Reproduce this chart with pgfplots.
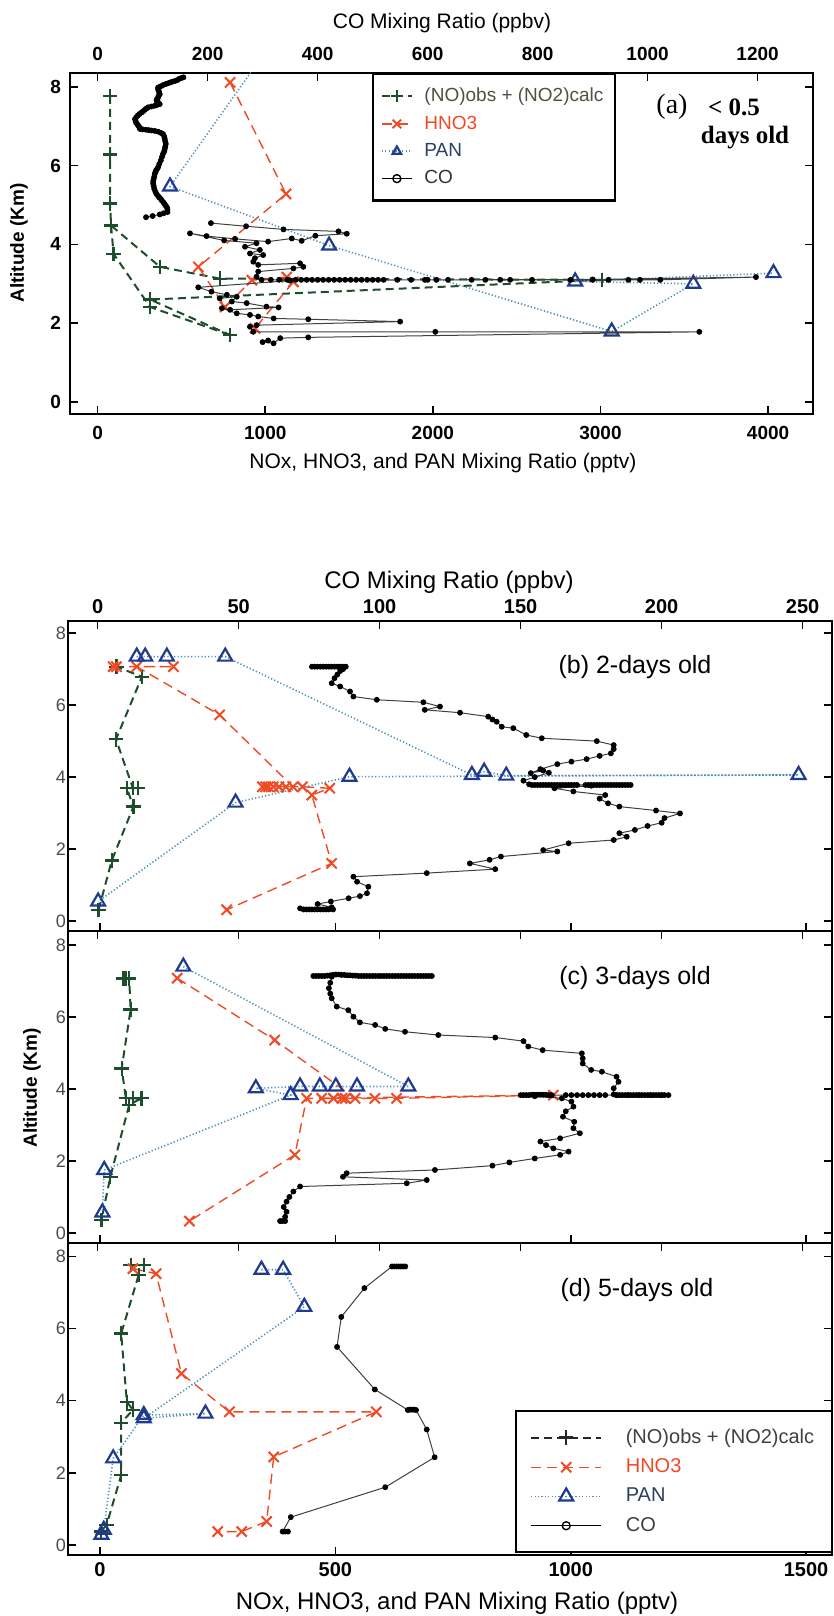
\documentclass[border=0pt]{standalone}
\usepackage{fontspec}
\setmainfont{Liberation Sans}
\newfontfamily\tnr{Liberation Serif}
\usepackage{pgfplots}
\pgfplotsset{compat=1.18}
\definecolor{noxc}{HTML}{1E4D2B}
\definecolor{hnoc}{HTML}{F04A25}
\definecolor{pantri}{HTML}{1F3B8F}
\definecolor{panline}{HTML}{4D8FB5}
\definecolor{legnox}{HTML}{4A5540}
\definecolor{legpan}{HTML}{2D3E63}
\pgfplotsset{
  noxs/.style={color=noxc, line width=1pt, dash pattern=on 4pt off 2.5pt, mark=+, mark size=3.6pt, mark options={solid, line width=1.1pt}},
  hnos/.style={color=hnoc, line width=0.7pt, dash pattern=on 5pt off 3pt, mark=x, mark size=3.6pt, mark options={solid, line width=1pt}},
  pans/.style={color=panline, line width=0.8pt, dash pattern=on 0.6pt off 1.1pt, mark=triangle, mark size=4pt, mark options={solid, draw=pantri, fill=none, line width=1.1pt}},
  cos/.style={color=black!75, line width=0.5pt, mark=*, mark size=1.2pt, mark options={solid, draw=black, fill=black}},
  colegend/.style={color=black, line width=0.7pt, mark=o, mark size=2pt, mark options={solid}},
  base/.style={scale only axis, axis line style={line width=1pt}, tick style={line width=0.8pt, black}, major tick length=4pt, tick align=inside,
     /pgf/number format/assume math mode=true, /pgf/number format/1000 sep={}, scaled x ticks=false, scaled y ticks=false},
}
\begin{document}
\begin{tikzpicture}
\useasboundingbox (0,0) rectangle (417pt,-808pt);

% ---------------- Panel (a) ----------------
\begin{axis}[base, at={(35pt,-36.5pt)}, anchor=north west, width=371.5pt, height=170.5pt,
  xmin=-165, xmax=4268, ymin=-0.305, ymax=8.35,
  xtick={0,1000,2000,3000,4000}, xtick pos=bottom, ytick={0,2,4,6,8}, ytick pos=both, yticklabel pos=left,
  xticklabel style={font=\fontsize{9.5}{11}\selectfont\bfseries, yshift=-2.5pt},
  yticklabel style={font=\fontsize{9.5}{11}\selectfont\bfseries, xshift=-1pt}]
\addplot[noxs] coordinates {(74,7.77)(74,6.28)(74,5.04)(80,4.48)(372,3.43)(731,3.13)(3008,3.10)(313,2.60)(790,1.70)};
\addplot[noxs] coordinates {(80,4.48)(95,3.76)(313,2.41)(790,1.70)};
\addplot[hnos] coordinates {(790,8.11)(1124,5.28)(601,3.43)(760,2.41)(920,3.09)(1128,3.17)(1168,3.05)(939,1.87)};
\addplot[pans] coordinates {(1019,9.0)(432,5.47)(1381,3.97)(3067,1.79)(3554,3.00)(2849,3.06)(4032,3.27)};
\end{axis}
\begin{axis}[base, at={(35pt,-36.5pt)}, anchor=north west, width=371.5pt, height=170.5pt,
  xmin=-50.2, xmax=1300.7, ymin=-0.305, ymax=8.35, axis line style={draw=none},
  xtick={0,200,400,600,800,1000,1200}, xtick pos=top, xticklabel pos=top, ytick=\empty,
  xticklabel style={font=\fontsize{9.5}{11}\selectfont\bfseries, yshift=2.5pt},
  legend cell align=left,
  legend image code/.code={\draw[mark repeat=2,mark phase=2,#1] plot coordinates {(0pt,0pt)(7.5pt,0pt)(15pt,0pt)};},
  legend style={at={(0.406,1)}, anchor=north west, draw=black, line width=1.2pt, fill=white,
    font=\fontsize{9.5}{11}\selectfont, nodes={inner sep=1.8pt}, row sep=2pt, inner xsep=4pt, inner ysep=5pt,
    /tikz/every odd column/.append style={column sep=4pt}}]
\addlegendimage{noxs, mark size=3pt}\addlegendentry{\textcolor{legnox}{(NO)obs + (NO2)calc}\hspace{16pt}}
\addlegendimage{hnos, mark size=3pt}\addlegendentry{\textcolor{hnoc}{HNO3}}
\addlegendimage{pans, mark size=2.4pt}\addlegendentry{\textcolor{legpan}{PAN}}
\addlegendimage{colegend}\addlegendentry{\textcolor{black!80}{CO}}
\addplot[cos, forget plot] coordinates {(156,8.24)(152,8.22)(148,8.20)(145,8.17)(141,8.15)(136,8.13)(132,8.11)(128,8.09)(124,8.07)(120,8.05)(116,8.02)(113,8.00)(110,7.98)(110,7.94)(111,7.90)(112,7.85)(113,7.81)(111,7.77)(110,7.73)(108,7.69)(107,7.65)(110,7.60)(113,7.56)(108,7.54)(104,7.52)(98,7.50)(92,7.48)(89,7.45)(86,7.42)(83,7.38)(80,7.35)(76,7.31)(73,7.27)(70,7.22)(68,7.18)(69,7.13)(70,7.09)(72,7.05)(74,7.01)(76,6.97)(77,6.93)(82,6.92)(88,6.91)(93,6.90)(98,6.89)(104,6.88)(110,6.86)(115,6.83)(119,6.80)(121,6.74)(122,6.68)(123,6.61)(124,6.55)(123,6.48)(122,6.42)(121,6.36)(119,6.30)(117,6.22)(115,6.13)(112,6.04)(110,5.96)(108,5.91)(106,5.87)(105,5.83)(104,5.79)(103,5.72)(102,5.66)(101,5.60)(101,5.54)(102,5.48)(103,5.41)(105,5.34)(107,5.28)(110,5.23)(112,5.19)(115,5.15)(117,5.11)(120,5.06)(122,5.02)(124,4.98)(126,4.94)(127,4.88)(127,4.82)(120,4.79)(113,4.76)(100,4.72)(88,4.69)};
\addplot[cos, forget plot] coordinates {(206,4.54)(270,4.46)(338,4.38)(438,4.33)(453,4.27)(396,4.22)(371,4.09)(353,4.15)(310,4.07)(250,4.14)(198,4.21)(168,4.28)(230,4.10)(289,4.03)(268,3.94)(295,3.86)(277,3.77)(301,3.73)(286,3.65)(283,3.56)(292,3.48)(368,3.52)(374,3.43)(356,3.39)(292,3.31)(289,3.18)(298,3.10)(315,3.10)(330,3.10)(345,3.10)(360,3.10)(370,3.10)(380,3.10)(390,3.10)(400,3.10)(410,3.10)(420,3.10)(430,3.10)(440,3.10)(450,3.10)(460,3.10)(470,3.10)(480,3.10)(490,3.10)(500,3.10)(510,3.10)(520,3.10)(545,3.10)(570,3.10)(595,3.10)(616,3.10)(637,3.10)(680,3.10)(705,3.10)(732,3.10)(750,3.10)(790,3.10)(860,3.10)(900,3.10)(929,3.10)(965,3.10)(986,3.10)(1023,3.10)(1197,3.17)(900,3.11)(600,3.10)(350,3.08)(183,2.91)(207,2.80)(235,2.72)(222,2.63)(253,2.67)(244,2.55)(271,2.51)(307,2.42)(329,2.40)(241,2.34)(226,2.38)(253,2.25)(277,2.21)(292,2.17)(320,2.12)(383,2.10)(550,2.04)(289,1.95)(277,1.91)(283,1.78)(614,1.78)(1094,1.78)(383,1.64)(332,1.62)(320,1.49)(300,1.52)(310,1.56)};
\end{axis}
\node[font=\fontsize{10.5}{12}\selectfont] at (221pt,-11.5pt) {CO Mixing Ratio (ppbv)};
\node[font=\fontsize{10.5}{12}\selectfont] at (221.5pt,-231.5pt) {NOx, HNO3, and PAN Mixing Ratio (pptv)};
\node[font=\fontsize{9.5}{11}\selectfont\bfseries, rotate=90] at (9.5pt,-121.5pt) {Altitude (Km)};
\node[font=\tnr\fontsize{14}{16}\selectfont] at (336pt,-53.5pt) {(a)};
\node[font=\tnr\fontsize{12.5}{14}\selectfont\bfseries] at (367pt,-53.5pt) {< 0.5};
\node[font=\tnr\fontsize{12.5}{14}\selectfont\bfseries] at (372.5pt,-69pt) {days old};

% ---------------- Panel (b) ----------------
\begin{axis}[base, at={(34pt,-310.5pt)}, anchor=north west, width=382pt, height=155pt,
  xmin=-68, xmax=1555, ymin=-0.28, ymax=8.34,
  xtick={0,500,1000,1500}, xtick pos=bottom, xticklabels={}, ytick={0,2,4,6,8}, ytick pos=both, yticklabel pos=left,
  yticklabel style={font=\fontsize{9}{11}\selectfont, text=black!70, xshift=2.5pt}]
\addplot[noxs] coordinates {(-3,0.31)(25,1.68)(71,3.18)(57,3.69)(81,3.69)(70,3.69)(34,5.05)(89,6.79)(35,7.07)};
\addplot[hnos] coordinates {(28,7.07)(35,7.07)(156,7.07)(78,7.07)(254,5.73)(410,3.73)(345,3.73)(352,3.73)(358,3.73)(368,3.73)(380,3.73)(395,3.73)(430,3.73)(488,3.69)(450,3.50)(492,1.60)(269,0.31)};
\addplot[pans] coordinates {(78,7.35)(96,7.35)(142,7.35)(266,7.35)(790,4.06)(816,4.15)(863,4.04)(1484,4.06)(530,4.01)(288,3.29)(-4,0.54)};
\end{axis}
\begin{axis}[base, at={(34pt,-310.5pt)}, anchor=north west, width=382pt, height=155pt,
  xmin=-10.5, xmax=260.4, ymin=-0.28, ymax=8.34, axis line style={draw=none},
  xtick={0,50,100,150,200,250}, xtick pos=top, xticklabel pos=top, ytick=\empty,
  xticklabel style={font=\fontsize{10}{12}\selectfont\bfseries}]
\addplot[cos] coordinates {(76,7.07)(77,7.07)(78,7.07)(79,7.07)(80,7.07)(81,7.07)(82,7.07)(83,7.07)(84,7.07)(85,7.07)(86,7.07)(87,7.07)(88,7.07)(87,7.00)(86,6.95)(85,6.85)(84,6.75)(83,6.61)(86,6.52)(89.5,6.38)(90.7,6.24)(99,6.15)(115.5,6.08)(121.4,5.96)(116,5.87)(128.5,5.79)(138.5,5.68)(140,5.60)(141.5,5.54)(143.3,5.40)(147.4,5.36)(152,5.17)(157.5,5.08)(177,5.00)(183,4.89)(183,4.78)(182,4.66)(178,4.59)(173.4,4.50)(168,4.43)(163,4.36)(157,4.22)(153.6,4.11)(158,4.18)(160,4.12)(155,4.00)(151,3.90)(153,3.80)(154,3.78)(155,3.78)(156,3.78)(157,3.78)(158,3.78)(159,3.78)(160,3.78)(161,3.78)(162,3.78)(163,3.78)(164,3.78)(165,3.78)(166,3.78)(167,3.78)(168,3.78)(169,3.78)(170,3.78)(173,3.78)(174,3.78)(175,3.78)(176,3.78)(177,3.78)(178,3.78)(179,3.78)(180,3.78)(181,3.78)(182,3.78)(183,3.78)(184,3.78)(185,3.78)(186,3.78)(187,3.78)(188,3.78)(189,3.78)(175,3.76)(162,3.69)(168.7,3.60)(180,3.50)(178,3.40)(181,3.27)(185,3.18)(198,3.07)(206.5,2.99)(201,2.86)(200,2.73)(195,2.64)(190.5,2.53)(185,2.44)(187.6,2.34)(183,2.25)(167,2.16)(158,1.97)(163,1.93)(143,1.79)(139,1.70)(132,1.60)(141,1.44)(116.7,1.33)(90.7,1.23)(92,1.09)(96,0.95)(95.5,0.77)(93,0.69)(89,0.63)(82.7,0.54)(78,0.47)(83,0.38)(71.8,0.35)(73,0.32)(74,0.32)(75,0.32)(76,0.32)(77,0.32)(78,0.32)(79,0.32)(80,0.32)(81,0.32)(82,0.32)(83.5,0.32)};
\end{axis}
\node[font=\fontsize{12}{14}\selectfont] at (224.5pt,-291pt) {CO Mixing Ratio (ppbv)};
\node[font=\fontsize{12.5}{14}\selectfont] at (317.5pt,-333.5pt) {(b) 2-days old};

% ---------------- Panel (c) ----------------
\begin{axis}[base, at={(34pt,-465.5pt)}, anchor=north west, width=382pt, height=156pt,
  xmin=-68, xmax=1555, ymin=-0.28, ymax=8.39,
  xtick={0,500,1000,1500}, xtick pos=bottom, xticklabels={}, ytick={0,2,4,6,8}, ytick pos=both, yticklabel pos=left,
  yticklabel style={font=\fontsize{9}{11}\selectfont, text=black!70, xshift=2.5pt}]
\addplot[noxs] coordinates {(50,7.07)(56,7.07)(62,7.07)(65,6.21)(46,4.57)(55,3.74)(70,3.74)(88,3.74)(62,3.56)(22,1.56)(3,0.36)};
\addplot[hnos] coordinates {(164,7.08)(371,5.36)(542,3.74)(514,3.74)(496,3.74)(471,3.74)(521,3.74)(584,3.74)(630,3.74)(963,3.83)(439,3.74)(414,2.17)(190,0.33)};
\addplot[pans] coordinates {(177,7.40)(655,4.07)(546,4.07)(501,4.07)(467,4.07)(425,4.07)(331,4.02)(405,3.83)(9,1.75)(5,0.57)};
\end{axis}
\begin{axis}[base, at={(34pt,-465.5pt)}, anchor=north west, width=382pt, height=156pt,
  xmin=-10.5, xmax=260.4, ymin=-0.28, ymax=8.39, axis line style={draw=none},
  xtick={0,50,100,150,200,250}, xtick pos=top, xticklabels={}, ytick=\empty]
\addplot[cos] coordinates {(118.5,7.14)(117.5,7.14)(116.5,7.14)(115.5,7.14)(114.5,7.14)(113.5,7.14)(112.5,7.14)(111.5,7.14)(110.5,7.14)(109.5,7.14)(108.5,7.14)(107.5,7.14)(106.5,7.14)(105.5,7.14)(104.5,7.14)(103.5,7.14)(102.5,7.14)(101.5,7.14)(100.5,7.14)(99.5,7.14)(98.5,7.14)(97.5,7.14)(96.5,7.14)(95.5,7.14)(94.5,7.14)(93.5,7.14)(92.5,7.14)(91.5,7.15)(90.5,7.15)(89.5,7.16)(88.5,7.16)(87.5,7.17)(86.5,7.17)(85.5,7.18)(84.5,7.18)(83.5,7.17)(82.5,7.16)(81.5,7.15)(80.5,7.14)(79.5,7.14)(78.5,7.14)(77.5,7.14)(76.5,7.14)(83,7.12)(82.5,6.95)(82,6.80)(82.5,6.65)(83,6.52)(84.8,6.29)(88.9,6.19)(90.7,6.01)(93,5.85)(98.4,5.78)(102,5.67)(109,5.59)(120.8,5.50)(141,5.43)(151,5.33)(152.7,5.18)(157.8,5.08)(171.7,4.99)(172,4.85)(172,4.71)(175,4.53)(178.8,4.48)(184,4.34)(184.7,4.20)(183,4.02)(183,3.85)(184,3.83)(185,3.83)(186,3.83)(187,3.83)(188,3.83)(189,3.83)(190,3.83)(191,3.83)(192,3.83)(193,3.83)(194,3.83)(195,3.83)(196,3.83)(197,3.83)(198,3.83)(199,3.83)(200,3.83)(201,3.83)(202.4,3.83)(200,3.83)(196,3.83)(192,3.83)(188,3.83)(184,3.83)(180,3.83)(178,3.83)(176,3.83)(174,3.83)(172,3.83)(170,3.83)(168,3.83)(166,3.83)(161,3.83)(160,3.83)(159,3.84)(158,3.84)(157,3.84)(156,3.84)(155,3.84)(154,3.84)(153,3.83)(152,3.83)(151,3.83)(150,3.83)(155,3.80)(164.6,3.74)(168,3.65)(168.7,3.51)(166,3.38)(165,3.23)(169,3.09)(168.7,2.91)(171,2.77)(164,2.63)(157,2.54)(159,2.44)(161.6,2.35)(167,2.26)(164,2.17)(155,2.07)(146,1.96)(140,1.87)(119.6,1.75)(88.3,1.66)(87,1.56)(116.7,1.47)(109.6,1.38)(71.8,1.29)(69.4,1.15)(68,1.00)(67,0.87)(66,0.72)(67,0.59)(66.5,0.45)(66.5,0.33)(65.5,0.33)(64.7,0.33)};
\end{axis}
\node[font=\fontsize{9.5}{11}\selectfont\bfseries, rotate=90] at (16pt,-544pt) {Altitude (Km)};
\node[font=\fontsize{12.5}{14}\selectfont] at (317.5pt,-489pt) {(c) 3-days old};

% ---------------- Panel (d) ----------------
\begin{axis}[base, at={(34pt,-621.5pt)}, anchor=north west, width=382pt, height=156pt,
  xmin=-68, xmax=1555, ymin=-0.28, ymax=8.37,
  xtick={0,500,1000,1500}, xtick pos=bottom, ytick={0,2,4,6,8}, ytick pos=both, yticklabel pos=left,
  xticklabel style={font=\fontsize{10}{12}\selectfont\bfseries},
  yticklabel style={font=\fontsize{9}{11}\selectfont, text=black!70, xshift=2.5pt}]
\addplot[noxs] coordinates {(93,7.76)(65,7.76)(82,7.48)(45,5.86)(57,3.97)(70,3.74)(45,3.39)(45,1.94)(14,0.55)(2,0.37)};
\addplot[hnos] coordinates {(70,7.66)(119,7.52)(173,4.75)(275,3.69)(587,3.69)(369,2.44)(354,0.65)(301,0.37)(250,0.37)};
\addplot[pans] coordinates {(343,7.63)(389,7.63)(434,6.60)(93,3.51)(224,3.64)(93,3.60)(28,2.40)(8,0.42)(3,0.28)};
\end{axis}
\begin{axis}[base, at={(34pt,-621.5pt)}, anchor=north west, width=382pt, height=156pt,
  xmin=-10.5, xmax=260.4, ymin=-0.28, ymax=8.37, axis line style={draw=none},
  xtick={0,50,100,150,200,250}, xtick pos=top, xticklabels={}, ytick=\empty,
  legend cell align=left,
  legend image code/.code={\draw[mark repeat=2,mark phase=2,#1] plot coordinates {(0pt,0pt)(17.5pt,0pt)(35pt,0pt)};},
  legend style={at={(1,0)}, anchor=south east, xshift=0.5pt, yshift=1pt, draw=black, line width=1.2pt, fill=white,
    font=\fontsize{10}{12}\selectfont, nodes={inner sep=1.8pt}, row sep=2.6pt, inner xsep=7pt, inner ysep=7pt,
    /tikz/every odd column/.append style={column sep=10pt}}]
\addlegendimage{noxs, color=black!85}\addlegendentry{\textcolor{black!75}{(NO)obs + (NO2)calc}\hspace{6pt}}
\addlegendimage{hnos}\addlegendentry{\textcolor{hnoc}{HNO3}}
\addlegendimage{pans}\addlegendentry{\textcolor{legpan}{PAN}}
\addlegendimage{colegend}\addlegendentry{\textcolor{black!75}{CO}}
\addplot[cos, forget plot] coordinates {(109.1,7.72)(108.3,7.72)(107.5,7.72)(106.7,7.72)(106,7.72)(105.2,7.72)(104.4,7.72)(94.6,7.12)(86.4,6.32)(84.9,5.49)(98.3,4.31)(110,3.74)(110.7,3.75)(111.5,3.75)(112.2,3.75)(112.9,3.74)(116.7,3.20)(119.5,2.43)(102,1.60)(68.5,0.77)(65.6,0.37)(66.5,0.37)(67.5,0.37)};
\end{axis}
\node[font=\fontsize{12}{14}\selectfont] at (228.5pt,-801.5pt) {NOx, HNO3, and PAN Mixing Ratio (pptv)};
\node[font=\fontsize{12.5}{14}\selectfont] at (318.5pt,-645pt) {(d) 5-days old};
\end{tikzpicture}
\end{document}
